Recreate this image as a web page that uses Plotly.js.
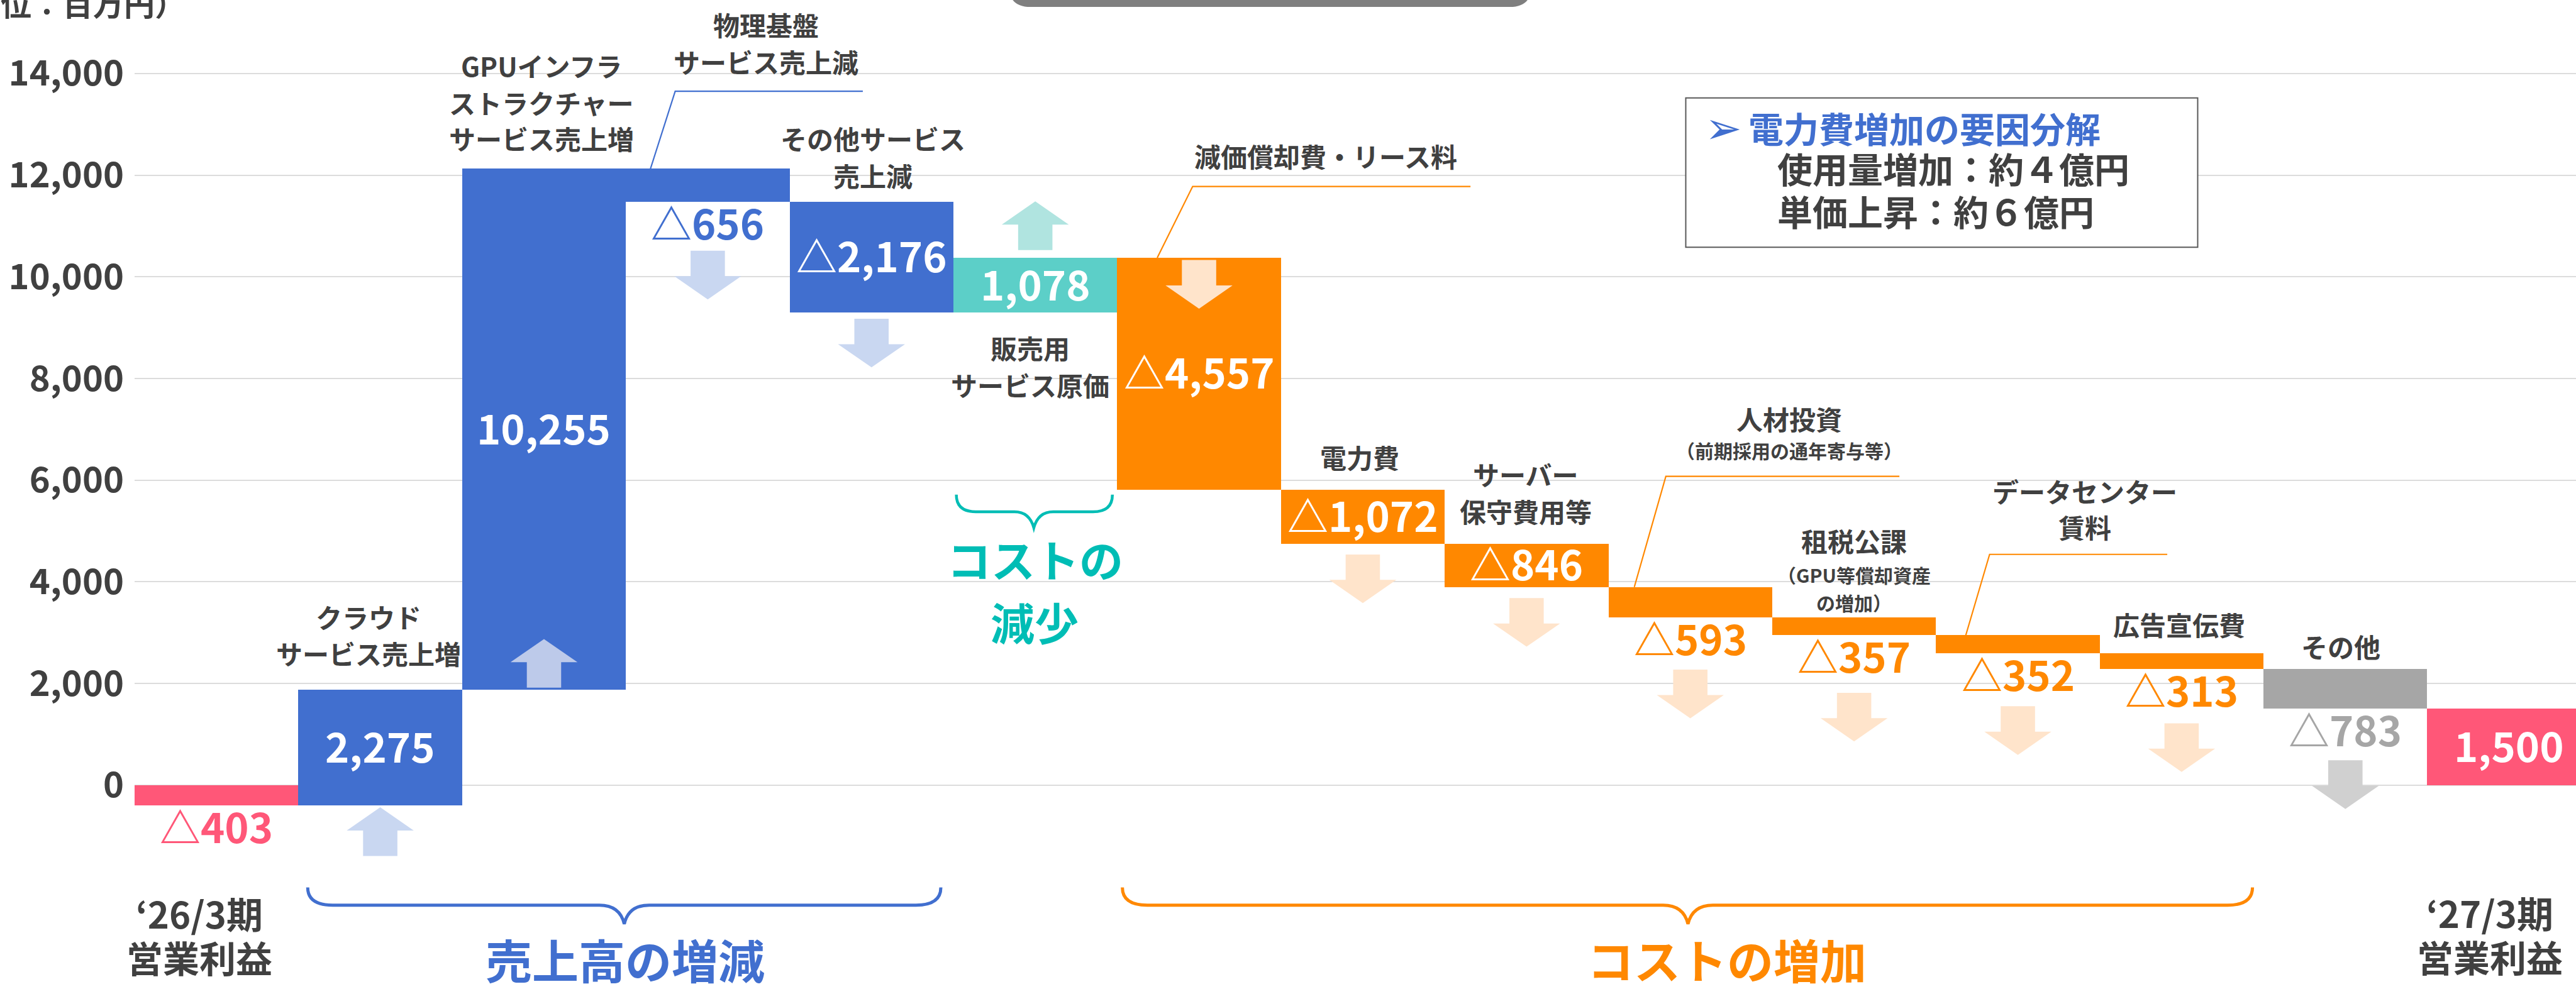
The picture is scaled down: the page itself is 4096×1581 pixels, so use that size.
<!DOCTYPE html>
<html><head><meta charset="utf-8">
<script src="https://cdn.plot.ly/plotly-3.0.1.min.js"></script>
<style>html,body{margin:0;padding:0;background:#fff;overflow:hidden}</style>
</head><body><div id="chart" style="width:4096px;height:1581px"></div>
<script>
// ---------------- data ----------------
const categories = ["‘26/3期 営業利益","クラウドサービス売上増","GPUインフラストラクチャーサービス売上増","物理基盤サービス売上減","その他サービス売上減","販売用サービス原価","減価償却費・リース料","電力費","サーバー保守費用等","人材投資","租税公課","データセンター賃料","広告宣伝費","その他","‘27/3期 営業利益"];
const values = [-403, 2275, 10255, -656, -2176, 1078, -4557, -1072, -846, -593, -357, -352, -313, -783, 1500];
const measures = ["total","relative","relative","relative","relative","relative","relative","relative","relative","relative","relative","relative","relative","relative","total"];
const yTickValues = [0, 2000, 4000, 6000, 8000, 10000, 12000, 14000];
const yTickLabels = ["0", "2,000", "4,000", "6,000", "8,000", "10,000", "12,000", "14,000"];

// ---------------- styles ----------------
const FONT = '"Noto Sans CJK JP", "Noto Sans", sans-serif';
const DARK = '#404040';
const BLUE = '#416FCF', PINK = '#FF5778', TEAL = '#5CCFC8', ORANGE = '#FF8800', GRAY = '#A6A6A6';
const barColors = [PINK, BLUE, BLUE, BLUE, BLUE, TEAL, ORANGE, ORANGE, ORANGE, ORANGE, ORANGE, ORANGE, ORANGE, GRAY, PINK];
const labelColors = [PINK, '#fff', '#fff', BLUE, '#fff', '#fff', '#fff', '#fff', '#fff', ORANGE, ORANGE, ORANGE, ORANGE, GRAY, '#fff'];
const labelInside = [false, true, true, false, true, true, true, true, true, false, false, false, false, false, true];

// ---------------- geometry (reference px scaled) ----------------
const S = 0.88;
const W = 4096, H = 1581, ML = 214, MR = 0, PW = W - ML - MR;
const Y0 = 1419 * S;                 // pixel row of value 0
const PXU = 183.75 / 2000 * S;       // pixels per unit
const UNITPX = 295.9 * S;            // pixels per category (last bar runs past the edge)
const yRange = [-(H - Y0) / PXU, Y0 / PXU];
const xRange = [-0.5, -0.5 + PW / UNITPX];
const px2val = py => (Y0 - py) / PXU;
const val2px = v => Y0 - v * PXU;
const xp = rx => (rx * S - ML) / PW;
const yp = ry => 1 - (ry * S) / H;

// ---------------- waterfall bases ----------------
const idx = categories.map((_, i) => i);
const bases = [], ends = [];
let run = 0;
values.forEach((v, i) => {
  if (measures[i] === 'total') { bases.push(0); run = v; }
  else { bases.push(run); run += v; }
  ends.push(bases[i] + v);
});
const tops = bases.map((b, i) => Math.max(b, ends[i]));
const bots = bases.map((b, i) => Math.min(b, ends[i]));
const fmt = v => (v < 0 ? '△' : '') + Math.abs(v).toLocaleString('en-US');

const annotations = [];
const shapes = [];

// value labels
const VSIZE = 65;
values.forEach((v, i) => {
  const inside = labelInside[i];
  annotations.push({
    xref: 'x', yref: 'y', x: i,
    y: inside ? (tops[i] + bots[i]) / 2 : bots[i],
    yshift: inside ? 4 : -36 + 4,
    text: fmt(v), showarrow: false, xanchor: 'center', yanchor: 'middle',
    font: { family: FONT, size: VSIZE, color: labelColors[i], weight: 700 }
  });
});

// block arrows  [bar, dir, edge, gap(ref px, + = down), color]
const arrowSpec = [
  [1, 'up', 'bot', 3, '#C9D7F1'],
  [2, 'up', 'bot', -92, '#BDCAEA'],
  [3, 'down', 'bot', 88, '#C9D7F1'],
  [4, 'down', 'bot', 11, '#C9D7F1'],
  [5, 'up', 'top', -102, '#B0E4E0'],
  [6, 'down', 'top', 4, '#FFE4CB'],
  [7, 'down', 'bot', 19, '#FFE4CB'],
  [8, 'down', 'bot', 20, '#FFE4CB'],
  [9, 'down', 'bot', 95, '#FFE4CB'],
  [10, 'down', 'bot', 104, '#FFE4CB'],
  [11, 'down', 'bot', 96, '#FFE4CB'],
  [12, 'down', 'bot', 98, '#FFE4CB'],
  [13, 'down', 'bot', 93, '#D0D0D0']
];
const hw = 60.5 * S / UNITPX, sw = 31 * S / UNITPX, AH = 88 * S / PXU, HH = 42 * S / PXU;
arrowSpec.forEach(([i, dir, edge, gap, col]) => {
  const edgePx = val2px(edge === 'bot' ? bots[i] : tops[i]);
  const yt = px2val(edgePx + gap * S), yb = yt - AH;
  let p;
  if (dir === 'up') {
    const hb = yt - HH;
    p = `M${i},${yt} L${i + hw},${hb} L${i + sw},${hb} L${i + sw},${yb} L${i - sw},${yb} L${i - sw},${hb} L${i - hw},${hb} Z`;
  } else {
    const hb = yb + HH;
    p = `M${i - sw},${yt} L${i + sw},${yt} L${i + sw},${hb} L${i + hw},${hb} L${i},${yb} L${i - hw},${hb} L${i - sw},${hb} Z`;
  }
  shapes.push({ type: 'path', xref: 'x', yref: 'y', path: p, fillcolor: col, line: { width: 0 }, layer: 'above' });
});

// text helper (reference px positions)
function addText(text, rx, ry, size, color, opts) {
  annotations.push(Object.assign({
    text, xref: 'paper', yref: 'paper', x: xp(rx), y: yp(ry),
    xanchor: 'center', yanchor: 'middle', showarrow: false, yshift: 0.06 * size,
    font: { family: FONT, size, color, weight: 700 }
  }, opts || {}));
}
// category labels: [lines [text, y, size], x]
const catLabels = [
  [[["‘26/3期", 1654, 58], ["営業利益", 1733, 58]], 360],
  [[["クラウド", 1117, 42], ["サービス売上増", 1183, 42]], 666],
  [[["GPUインフラ", 121, 42], ["ストラクチャー", 187, 42], ["サービス売上増", 252, 42]], 978],
  [[["物理基盤", 47, 42], ["サービス売上減", 114, 42]], 1384],
  [[["その他サービス", 252, 42], ["売上減", 319, 42]], 1577],
  [[["販売用", 631, 42], ["サービス原価", 698, 42]], 1861],
  [[["減価償却費・リース料", 284, 42]], 2396],
  [[["電力費", 828, 42]], 2457],
  [[["サーバー", 859, 42], ["保守費用等", 926, 42]], 2757],
  [[["人材投資", 759, 42], ["（前期採用の通年寄与等）", 816, 30]], 3233],
  [[["租税公課", 980, 42], ["（GPU等償却資産", 1041, 30], ["の増加）", 1091, 30]], 3350],
  [[["データセンター", 890, 42], ["賃料", 954, 42]], 3767],
  [[["広告宣伝費", 1131, 42]], 3938],
  [[["その他", 1171, 42]], 4230],
  [[["‘27/3期", 1653, 58], ["営業利益", 1732, 58]], 4499]
];
catLabels.forEach(([lines, rx]) => lines.forEach(([t, ry, sz]) => addText(t, rx, ry, sz, DARK)));

// leader lines
const leaders = [
  [[1175, 306], [1220, 165], [1559, 165], BLUE],
  [[2091, 466], [2155, 337], [2657, 337], ORANGE],
  [[2953, 1061], [3010, 861], [3432, 861], ORANGE],
  [[3552, 1148], [3595, 1002], [3916, 1002], ORANGE]
];
leaders.forEach(([a, b, c, col]) => shapes.push({
  type: 'path', xref: 'paper', yref: 'paper',
  path: `M${xp(a[0])},${yp(a[1])} L${xp(b[0])},${yp(b[1])} L${xp(c[0])},${yp(c[1])}`,
  line: { color: col, width: 2.2 }
}));

// braces
function brace(x0, x1, xt, ye, yl, yt, r, col, w) {
  const p = `M${xp(x0)},${yp(ye)} Q${xp(x0)},${yp(yl)} ${xp(x0 + r)},${yp(yl)} L${xp(xt - r)},${yp(yl)} Q${xp(xt - 8)},${yp(yl)} ${xp(xt)},${yp(yt)} Q${xp(xt + 8)},${yp(yl)} ${xp(xt + r)},${yp(yl)} L${xp(x1 - r)},${yp(yl)} Q${xp(x1)},${yp(yl)} ${xp(x1)},${yp(ye)}`;
  shapes.push({ type: 'path', xref: 'paper', yref: 'paper', path: p, line: { color: col, width: w } });
}
brace(556, 1700, 1128, 1604, 1636, 1670, 45, BLUE, 5);
brace(2028, 4070, 3050, 1604, 1636, 1670, 45, ORANGE, 5);
brace(1728, 2010, 1868, 894, 925, 954, 35, '#00BDB5', 4.5);

// group captions
addText('売上高の増減', 1130, 1737, 74, BLUE);
addText('コストの増加', 3120, 1737, 74, ORANGE);
addText('コストの', 1871, 1014, 70, '#00BDB5');
addText('減少', 1869, 1128, 70, '#00BDB5');

// info box
shapes.push({ type: 'rect', xref: 'paper', yref: 'paper', x0: xp(3046), x1: xp(3971), y0: yp(177), y1: yp(447),
  fillcolor: '#fff', line: { color: '#595959', width: 2 }, layer: 'above' });
addText('➢', 3078, 234, 70, BLUE, { xanchor: 'left', yshift: 2, font: { family: '"DejaVu Sans", sans-serif', size: 70, color: BLUE } });
addText('電力費増加の要因分解', 3157, 234, 56, BLUE, { xanchor: 'left' });
addText('使用量増加：約４億円', 3209, 307, 56, DARK, { xanchor: 'left' });
addText('単価上昇：約６億円', 3209, 384, 56, DARK, { xanchor: 'left' });

// top gray tab (cut off)
shapes.push({ type: 'path', xref: 'paper', yref: 'paper',
  path: `M${xp(1822)},${yp(-80)} L${xp(1822)},${yp(-28)} Q${xp(1822)},${yp(12.6)} ${xp(1862)},${yp(12.6)} L${xp(2728)},${yp(12.6)} Q${xp(2768)},${yp(12.6)} ${xp(2768)},${yp(-28)} L${xp(2768)},${yp(-80)} Z`,
  fillcolor: '#7F7F7F', line: { width: 0 } });

// unit title (partly cut off at top, as in the reference)
addText('（単位：百万円）', 338, 3.6, 49, DARK, { xanchor: 'right', yshift: 0 });

const trace = {
  type: 'bar', x: idx, y: values, base: bases, width: 1,
  marker: { color: barColors, line: { width: 0 } },
  hoverinfo: 'skip', showlegend: false, cliponaxis: true
};

const layout = {
  width: W, height: H,
  margin: { l: ML, r: MR, t: 0, b: 0, pad: 0 },
  paper_bgcolor: '#fff', plot_bgcolor: '#fff',
  bargap: 0, showlegend: false,
  xaxis: { range: xRange, visible: false, fixedrange: true },
  yaxis: {
    range: yRange, tickvals: yTickValues, ticktext: yTickLabels,
    showgrid: true, gridcolor: '#DCDCDC', gridwidth: 2, zeroline: false, showline: false,
    ticks: '', ticklabelstandoff: 16,
    tickfont: { family: FONT, size: 56, color: DARK, weight: 700 }, fixedrange: true
  },
  annotations, shapes
};
Plotly.newPlot('chart', [trace], layout, { staticPlot: true, displayModeBar: false });
</script></body></html>
